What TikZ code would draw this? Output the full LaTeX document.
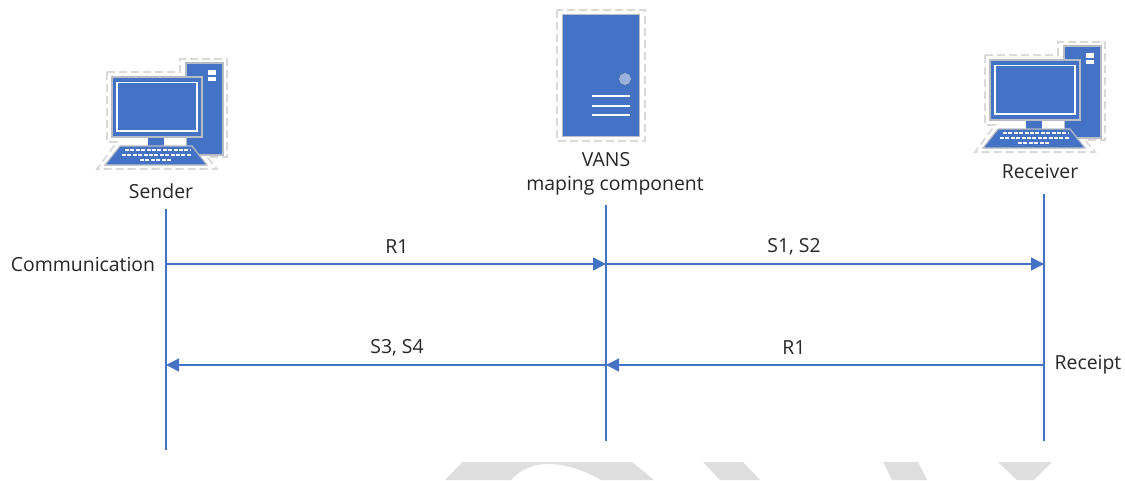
\documentclass[tikz,border=0pt]{standalone}
\usepackage{fontspec}
\setmainfont{Open Sans}
\usetikzlibrary{arrows.meta}
\definecolor{blu}{HTML}{4472C4}
\definecolor{edge}{HTML}{B8BCC4}
\definecolor{dashc}{HTML}{D9D9D9}
\definecolor{wm}{HTML}{DEDEDE}
\definecolor{ink}{HTML}{262626}
\tikzset{
  lifeline/.style={draw=blu,line width=1.5pt},
  msg/.style={draw=blu,line width=1.5pt,-{Triangle[length=13pt,width=13pt,fill=blu]}},
  lbl/.style={font=\fontsize{19.4}{22}\selectfont,text=ink,inner sep=0pt,align=center},
  part/.style={fill=blu,draw=edge,line width=1.2pt},
  halo/.style={draw=dashc,line width=1.7pt,dash pattern=on 8pt off 4pt},
  pics/computer/.style={code={
    \draw[halo] (107,72)--(180,72)--(180,59)--(227,59)--(227,157)--(207,157)--(217,169)--(97,169)--(117,142)--(107,142)--cycle;
    \draw[part] (186,63) rectangle (223,155);
    \fill[white] (208,70) rectangle (216,74.5);
    \fill[white] (208,77) rectangle (216,81);
    \fill[white] (164,137) rectangle (186,146);
    \draw[part] (112,77) rectangle (202,137);
    \draw[white,line width=1.4pt] (117,82.5) rectangle (197,131);
    \fill[blu] (148,137.6) rectangle (164,146);
    \draw[part] (120,146)--(192,146)--(207,165)--(105,165)--cycle;
    \foreach \r/\a/\b in {150/125/190,155/122/192,160/140/172}{
      \draw[white,line width=2.6pt,dash pattern=on 4pt off 1.4pt] (\a,\r)--(\b,\r);}
  }}
}
\begin{document}
\begin{tikzpicture}[x=1pt,y=-1pt]
\useasboundingbox (0,0) rectangle (1125,480);
% watermark
\fill[wm] (445,480)--(462.5,462)--(632,462)--(654,480)--(601,480) .. controls (580,468) and (562,464) .. (548,464) .. controls (532,464) and (520,470) .. (511,480)--cycle;
\fill[wm] (703,462)--(743,462)--(760,480)--(720,480)--cycle;
\fill[wm] (883,462)--(918,462)--(927,480)--(892,480)--cycle;
\fill[wm] (998,462)--(1052,462)--(1034,480)--(1017,480)--cycle;
% icons
\pic (sendericon) at (0,0) {computer};
\pic (receivericon) at (878,-17) {computer};
\draw[halo] (557,10) rectangle (645,141);
\node[part,minimum width=77pt,minimum height=122pt,inner sep=0pt] (server) at (601,75.5) {};
\node[circle,fill=white!45!blu,draw=edge,line width=0.6pt,minimum size=11pt,inner sep=0pt] (led) at (625,79) {};
\foreach \r in {96,106,115}{\draw[white,line width=1.8pt] (592,\r)--(630,\r);}
% labels
\node[lbl] (senderlabel) at (161,191) {Sender};
\node[lbl] (vanslabel) at (606,160) {VANS};
\node[lbl] (maplabel) at (615,186) {maping component};
\node[lbl] (receiverlabel) at (1040,171) {Receiver};
\node[lbl] (commlabel) at (83,264) {Communication};
\node[lbl] (receiptlabel) at (1088,365) {Receipt};
\node[lbl] (r1a) at (397,247) {R1};
\node[lbl] (s12) at (794,247) {S1, S2};
\node[lbl] (s34) at (397,348) {S3, S4};
\node[lbl] (r1b) at (794,348) {R1};
% lifelines
\coordinate (stop) at (166,209); \coordinate (sbot) at (166,450);
\coordinate (vtop) at (606,205); \coordinate (vbot) at (606,441);
\coordinate (rtop) at (1044,194); \coordinate (rbot) at (1044,441);
\coordinate (s1) at (166,264); \coordinate (v1) at (606,264); \coordinate (r1) at (1044,264);
\coordinate (s2) at (166,365); \coordinate (v2) at (606,365); \coordinate (r2) at (1044,365);
\draw[lifeline] (stop)--(sbot);
\draw[lifeline] (vtop)--(vbot);
\draw[lifeline] (rtop)--(rbot);
\draw[msg] (s1)--(v1);
\draw[msg] (v1)--(r1);
\draw[msg] (r2)--(v2);
\draw[msg] (v2)--(s2);
\end{tikzpicture}
\end{document}
